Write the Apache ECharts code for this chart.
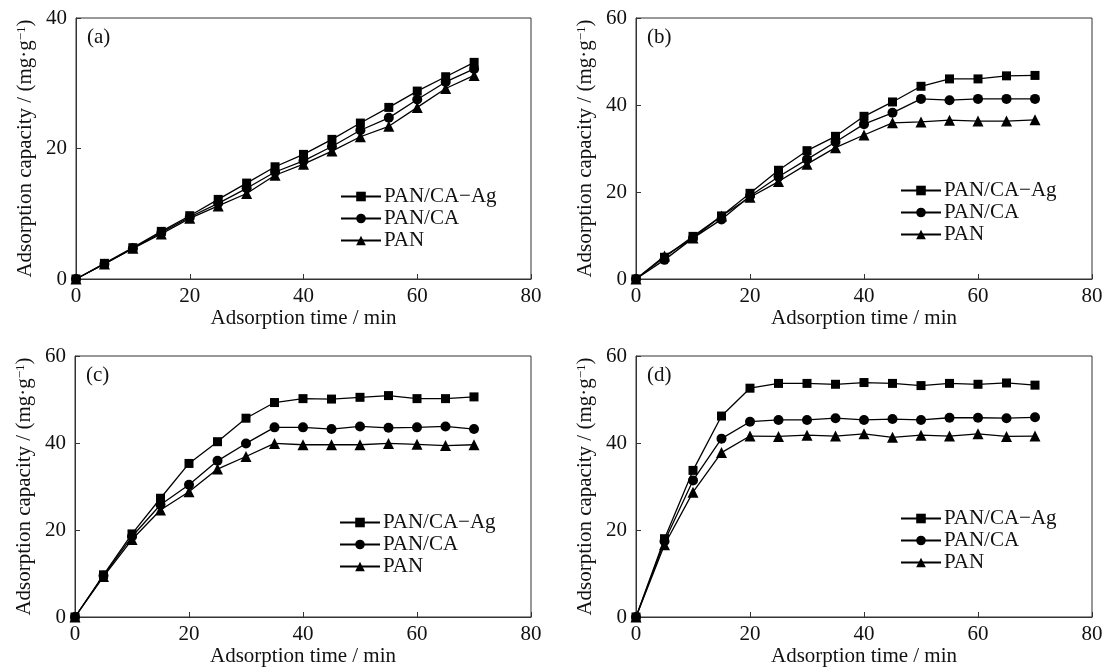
<!DOCTYPE html>
<html>
<head>
<meta charset="utf-8">
<script src="https://cdn.jsdelivr.net/npm/echarts@6/dist/echarts.min.js"></script>
<style>
html, body { margin: 0; background: #fff; }
#main { width: 1110px; height: 670px; }
</style>
</head>
<body>
<div id="main"></div>
<script>
var times = [0, 5, 10, 15, 20, 25, 30, 35, 40, 45, 50, 55, 60, 65, 70];
var seriesNames = ['PAN/CA\u2212Ag', 'PAN/CA', 'PAN'];
var panelLabels = ['(a)', '(b)', '(c)', '(d)'];
var yMax = [40, 60, 60, 60];

// (a)
var agA  = [0, 2.4, 4.8, 7.3, 9.7, 12.2, 14.7, 17.2, 19.1, 21.4, 23.9, 26.3, 28.8, 31.0, 33.2];
var caA  = [0, 2.3, 4.7, 7.1, 9.5, 11.6, 13.9, 16.4, 18.1, 20.3, 22.8, 24.7, 27.5, 30.2, 32.2];
var panA = [0, 2.3, 4.7, 6.9, 9.3, 11.2, 13.1, 15.9, 17.6, 19.6, 21.8, 23.4, 26.3, 29.2, 31.2];
// (b)
var agB  = [0, 5.0, 9.8, 14.5, 19.7, 25.0, 29.5, 32.8, 37.4, 40.7, 44.3, 46.0, 46.0, 46.7, 46.8];
var caB  = [0, 4.4, 9.4, 13.7, 19.1, 23.5, 27.5, 31.5, 35.6, 38.2, 41.4, 41.1, 41.4, 41.4, 41.4];
var panB = [0, 5.3, 9.4, 14.5, 18.8, 22.4, 26.4, 30.2, 33.1, 35.9, 36.1, 36.5, 36.3, 36.3, 36.6];
// (c)
var agC  = [0, 9.7, 19.1, 27.3, 35.3, 40.3, 45.7, 49.3, 50.2, 50.1, 50.5, 50.9, 50.2, 50.2, 50.6];
var caC  = [0, 9.5, 18.5, 25.8, 30.4, 35.9, 39.9, 43.6, 43.6, 43.2, 43.8, 43.5, 43.6, 43.8, 43.2];
var panC = [0, 9.3, 17.8, 24.6, 28.8, 34.0, 36.9, 39.9, 39.6, 39.6, 39.6, 39.9, 39.7, 39.4, 39.6];
// (d)
var agD  = [0, 18.0, 33.7, 46.2, 52.6, 53.7, 53.7, 53.5, 53.9, 53.7, 53.2, 53.7, 53.5, 53.8, 53.3];
var caD  = [0, 17.4, 31.4, 41.0, 44.9, 45.3, 45.3, 45.7, 45.3, 45.5, 45.3, 45.8, 45.8, 45.7, 45.9];
var panD = [0, 16.6, 28.7, 37.8, 41.6, 41.5, 41.8, 41.6, 42.1, 41.3, 41.8, 41.6, 42.1, 41.5, 41.6];

var panelData = [[agA, caA, panA], [agB, caB, panB], [agC, caC, panC], [agD, caD, panD]];

var FONT = '"Liberation Serif", "Times New Roman", serif';
var grids = [
    { left: 76,  top: 18,  width: 455, height: 261 },
    { left: 636, top: 18,  width: 456, height: 261 },
    { left: 75,  top: 356, width: 456, height: 261 },
    { left: 636, top: 356, width: 456, height: 261 }
];
var legendPos = [
    { left: 340, top: 186 },
    { left: 900, top: 180 },
    { left: 339, top: 512 },
    { left: 900, top: 508 }
];
var symbols = ['rect', 'circle', 'triangle'];
var symbolSizes = [9, 10, 11];

function pairs(ys) {
    return times.map(function (t, i) { return [t, ys[i]]; });
}

var option = {
    backgroundColor: '#fff',
    animation: false,
    textStyle: { fontFamily: FONT },
    grid: [], xAxis: [], yAxis: [], legend: [], series: [], graphic: []
};

grids.forEach(function (g, p) {
    option.grid.push({
        left: g.left, top: g.top, width: g.width, height: g.height,
        show: true, borderColor: '#333', borderWidth: 1, backgroundColor: 'transparent'
    });
    option.xAxis.push({
        type: 'value', gridIndex: p, min: 0, max: 80, interval: 20,
        name: 'Adsorption time / min', nameLocation: 'middle', nameGap: 28,
        nameTextStyle: { fontFamily: FONT, fontSize: 21, color: '#111' },
        axisLine: { lineStyle: { color: '#333', width: 1 } },
        axisTick: { inside: true, length: 5, lineStyle: { color: '#333' } },
        axisLabel: { fontFamily: FONT, fontSize: 21, color: '#111', margin: 7 },
        splitLine: { show: false }
    });
    option.yAxis.push({
        type: 'value', gridIndex: p, min: 0, max: yMax[p], interval: 20,
        name: 'Adsorption capacity / (mg\u00b7g{sup|\u22121})', nameLocation: 'middle', nameGap: 40,
        nameTextStyle: {
            fontFamily: FONT, fontSize: 21, color: '#111',
            rich: { sup: { fontFamily: FONT, fontSize: 13, color: '#111', verticalAlign: 'top', lineHeight: 13 } }
        },
        axisLine: { lineStyle: { color: '#333', width: 1 } },
        axisTick: { inside: true, length: 5, lineStyle: { color: '#333' } },
        axisLabel: { fontFamily: FONT, fontSize: 21, color: '#111', margin: 9 },
        splitLine: { show: false }
    });
    panelData[p].forEach(function (ys, k) {
        option.series.push({
            type: 'line', name: seriesNames[k],
            xAxisIndex: p, yAxisIndex: p,
            data: pairs(ys),
            symbol: symbols[k], symbolSize: symbolSizes[k], showSymbol: true,
            lineStyle: { color: '#000', width: 1.3 },
            itemStyle: { color: '#000' },
            z: 3 - k
        });
    });
    option.legend.push({
        orient: 'vertical', left: legendPos[p].left, top: legendPos[p].top,
        padding: 0, itemGap: 1, itemWidth: 40, itemHeight: 12,
        data: seriesNames,
        selectedMode: false,
        textStyle: { fontFamily: FONT, fontSize: 21, color: '#111', padding: [0, 0, 0, -2] }
    });
    option.graphic.push({
        type: 'text', left: g.left + 11, top: g.top + 9,
        style: { text: panelLabels[p], fontFamily: FONT, fontSize: 21, fill: '#111' }
    });
});

var chart = echarts.init(document.getElementById('main'));
chart.setOption(option);
</script>
</body>
</html>
